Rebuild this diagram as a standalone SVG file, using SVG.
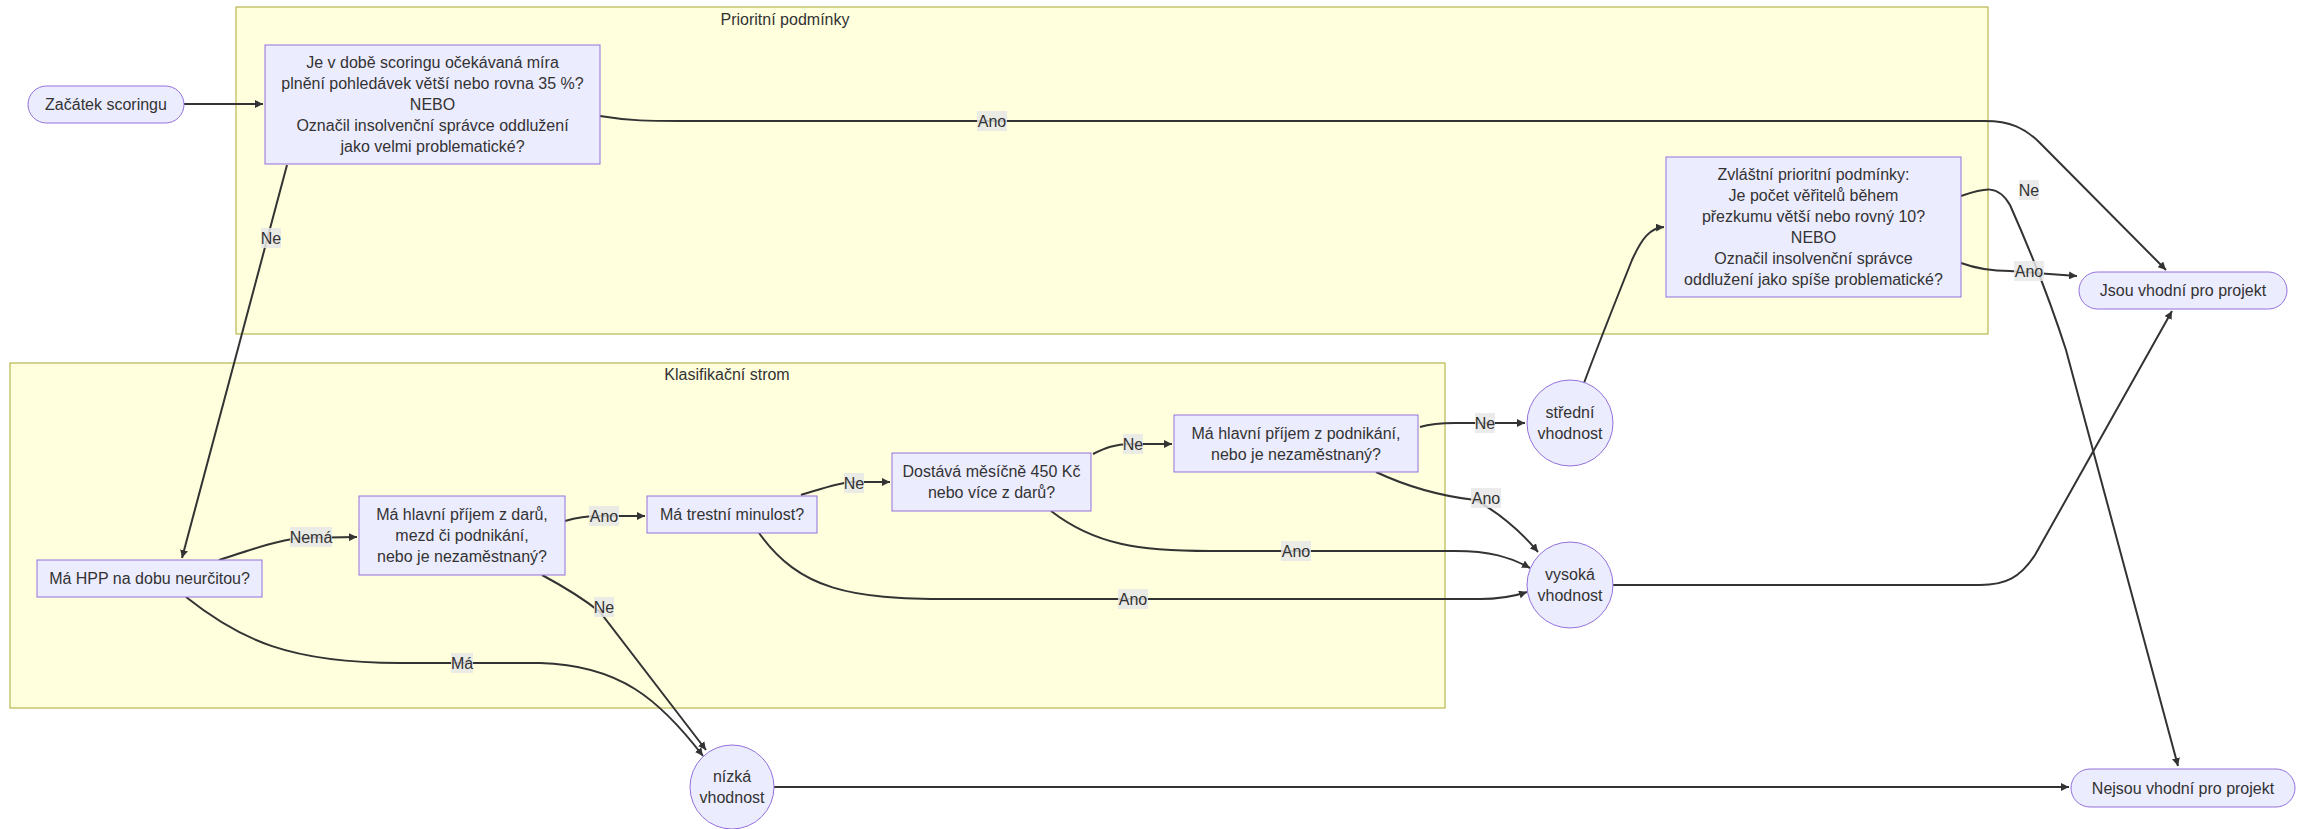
<svg xmlns="http://www.w3.org/2000/svg" width="2316" height="829" viewBox="0 0 2316 829">
<style>
text{font-family:"Liberation Sans",Arial,sans-serif;font-size:16px;fill:#333;text-anchor:middle;dominant-baseline:central}
.cl{fill:#ffffde;stroke:#aaaa33;stroke-width:1}
.nd{fill:#ececff;stroke:#9370db;stroke-width:1}
.ed{fill:none;stroke:#333;stroke-width:2}
.lb{fill:#e8e8e8;opacity:0.85}
</style>
<defs>
<marker id="ah" viewBox="0 0 10 10" refX="10" refY="5" markerWidth="8" markerHeight="8" markerUnits="userSpaceOnUse" orient="auto">
<path d="M0,0 L10,5 L0,10 z" fill="#333"/>
</marker>
</defs>
<g id="clusters">
<g id="cluster-prioritni"><rect class="cl" x="236" y="7" width="1752" height="327"/><text x="785" y="19">Prioritní podmínky</text></g>
<g id="cluster-klasifikacni"><rect class="cl" x="10" y="363" width="1435" height="345"/><text x="727" y="374">Klasifikační strom</text></g>
</g>
<g id="connectors">
<path class="ed" marker-end="url(#ah)" d="M184,104 L263,104"/>
<path class="ed" marker-end="url(#ah)" d="M600,116 C630,121 650,121 680,121 L1985,121 C2010,121 2025,128 2040,143 L2166,270"/>
<path class="ed" marker-end="url(#ah)" d="M287,165 L182,558"/>
<path class="ed" marker-end="url(#ah)" d="M219,560 C250,550 275,541 300,538 L357,537"/>
<path class="ed" marker-end="url(#ah)" d="M186,597 C240,640 290,663 400,663 L540,663 C620,665 660,700 703,756"/>
<path class="ed" marker-end="url(#ah)" d="M565,521 C575,518 585,516 600,516 L645,516"/>
<path class="ed" marker-end="url(#ah)" d="M542,575 C570,590 585,600 600,612 L706,750"/>
<path class="ed" marker-end="url(#ah)" d="M801,495 C820,489 835,484 850,482 L890,482"/>
<path class="ed" marker-end="url(#ah)" d="M759,533 C800,590 850,599 950,599 L1480,599 C1500,599 1515,596 1527,592"/>
<path class="ed" marker-end="url(#ah)" d="M1051,511 C1095,545 1140,551 1210,551 L1455,551 C1490,551 1510,557 1530,568"/>
<path class="ed" marker-end="url(#ah)" d="M1093,454 C1105,448 1115,444 1130,444 L1172,444"/>
<path class="ed" marker-end="url(#ah)" d="M1420,427 C1430,424 1440,423 1455,423 L1525,423"/>
<path class="ed" marker-end="url(#ah)" d="M1376,472 C1410,488 1440,496 1475,500 C1495,510 1520,530 1538,552"/>
<path class="ed" marker-end="url(#ah)" d="M1584,383 C1600,340 1620,290 1632,260 C1642,238 1650,228 1664,227"/>
<path class="ed" marker-end="url(#ah)" d="M1961,196 C1985,188 1998,184 2010,205 C2030,250 2050,300 2066,350 L2178,766"/>
<path class="ed" marker-end="url(#ah)" d="M1961,263 C1980,270 1995,271 2010,271 L2077,276"/>
<path class="ed" marker-end="url(#ah)" d="M1612,585 L1980,585 C2005,585 2020,578 2035,555 L2172,311"/>
<path class="ed" marker-end="url(#ah)" d="M774,787 L2069,787"/>
<g id="edge-labels">
<rect class="lb" x="977" y="111" width="30" height="20"/><text x="992" y="121">Ano</text>
<rect class="lb" x="261" y="228" width="20" height="20"/><text x="271" y="238">Ne</text>
<rect class="lb" x="290" y="527" width="42" height="20"/><text x="311" y="537">Nemá</text>
<rect class="lb" x="451" y="653" width="22" height="20"/><text x="462" y="663">Má</text>
<rect class="lb" x="589" y="506" width="30" height="20"/><text x="604" y="516">Ano</text>
<rect class="lb" x="594" y="597" width="20" height="20"/><text x="604" y="607">Ne</text>
<rect class="lb" x="844" y="473" width="20" height="20"/><text x="854" y="483">Ne</text>
<rect class="lb" x="1118" y="589" width="30" height="20"/><text x="1133" y="599">Ano</text>
<rect class="lb" x="1281" y="541" width="30" height="20"/><text x="1296" y="551">Ano</text>
<rect class="lb" x="1123" y="434" width="20" height="20"/><text x="1133" y="444">Ne</text>
<rect class="lb" x="1475" y="413" width="20" height="20"/><text x="1485" y="423">Ne</text>
<rect class="lb" x="1471" y="488" width="30" height="20"/><text x="1486" y="498">Ano</text>
<rect class="lb" x="2019" y="180" width="20" height="20"/><text x="2029" y="190">Ne</text>
<rect class="lb" x="2014" y="261" width="30" height="20"/><text x="2029" y="271">Ano</text>
</g>
</g>
<g id="node-start"><rect class="nd" x="28" y="86" width="156" height="37" rx="18.5"/><text x="106" y="104.5">Začátek scoringu</text></g>
<g id="node-q1"><rect class="nd" x="265" y="45" width="335" height="119"/>
<text x="432.5" y="62.5">Je v době scoringu očekávaná míra</text>
<text x="432.5" y="83.5">plnění pohledávek větší nebo rovna 35 %?</text>
<text x="432.5" y="104.5">NEBO</text>
<text x="432.5" y="125.5">Označil insolvenční správce oddlužení</text>
<text x="432.5" y="146.5">jako velmi problematické?</text></g>
<g id="node-q2"><rect class="nd" x="1666" y="157" width="295" height="140"/>
<text x="1813.5" y="174.5">Zvláštní prioritní podmínky:</text>
<text x="1813.5" y="195.5">Je počet věřitelů během</text>
<text x="1813.5" y="216.5">přezkumu větší nebo rovný 10?</text>
<text x="1813.5" y="237.5">NEBO</text>
<text x="1813.5" y="258.5">Označil insolvenční správce</text>
<text x="1813.5" y="279.5">oddlužení jako spíše problematické?</text></g>
<g id="node-jsou"><rect class="nd" x="2079" y="272" width="208" height="37" rx="18.5"/><text x="2183" y="290.5">Jsou vhodní pro projekt</text></g>
<g id="node-nejsou"><rect class="nd" x="2071" y="769" width="224" height="38" rx="19"/><text x="2183" y="788">Nejsou vhodní pro projekt</text></g>
<g id="node-hpp"><rect class="nd" x="37" y="560" width="225" height="37"/><text x="149.5" y="578.5">Má HPP na dobu neurčitou?</text></g>
<g id="node-dary"><rect class="nd" x="359" y="496" width="206" height="79"/>
<text x="462" y="514.5">Má hlavní příjem z darů,</text>
<text x="462" y="535.5">mezd či podnikání,</text>
<text x="462" y="556.5">nebo je nezaměstnaný?</text></g>
<g id="node-trestni"><rect class="nd" x="647" y="496" width="170" height="37"/><text x="732" y="514.5">Má trestní minulost?</text></g>
<g id="node-dostava"><rect class="nd" x="892" y="453" width="199" height="58"/>
<text x="991.5" y="471.5">Dostává měsíčně 450 Kč</text>
<text x="991.5" y="492.5">nebo více z darů?</text></g>
<g id="node-podnikani"><rect class="nd" x="1174" y="415" width="244" height="57"/>
<text x="1296" y="433">Má hlavní příjem z podnikání,</text>
<text x="1296" y="454">nebo je nezaměstnaný?</text></g>
<g id="node-stredni"><circle class="nd" cx="1570" cy="423" r="43"/><text x="1570" y="412.5">střední</text><text x="1570" y="433.5">vhodnost</text></g>
<g id="node-vysoka"><circle class="nd" cx="1570" cy="585" r="43"/><text x="1570" y="574.5">vysoká</text><text x="1570" y="595.5">vhodnost</text></g>
<g id="node-nizka"><circle class="nd" cx="732" cy="787" r="42"/><text x="732" y="776.5">nízká</text><text x="732" y="797.5">vhodnost</text></g>
</svg>
